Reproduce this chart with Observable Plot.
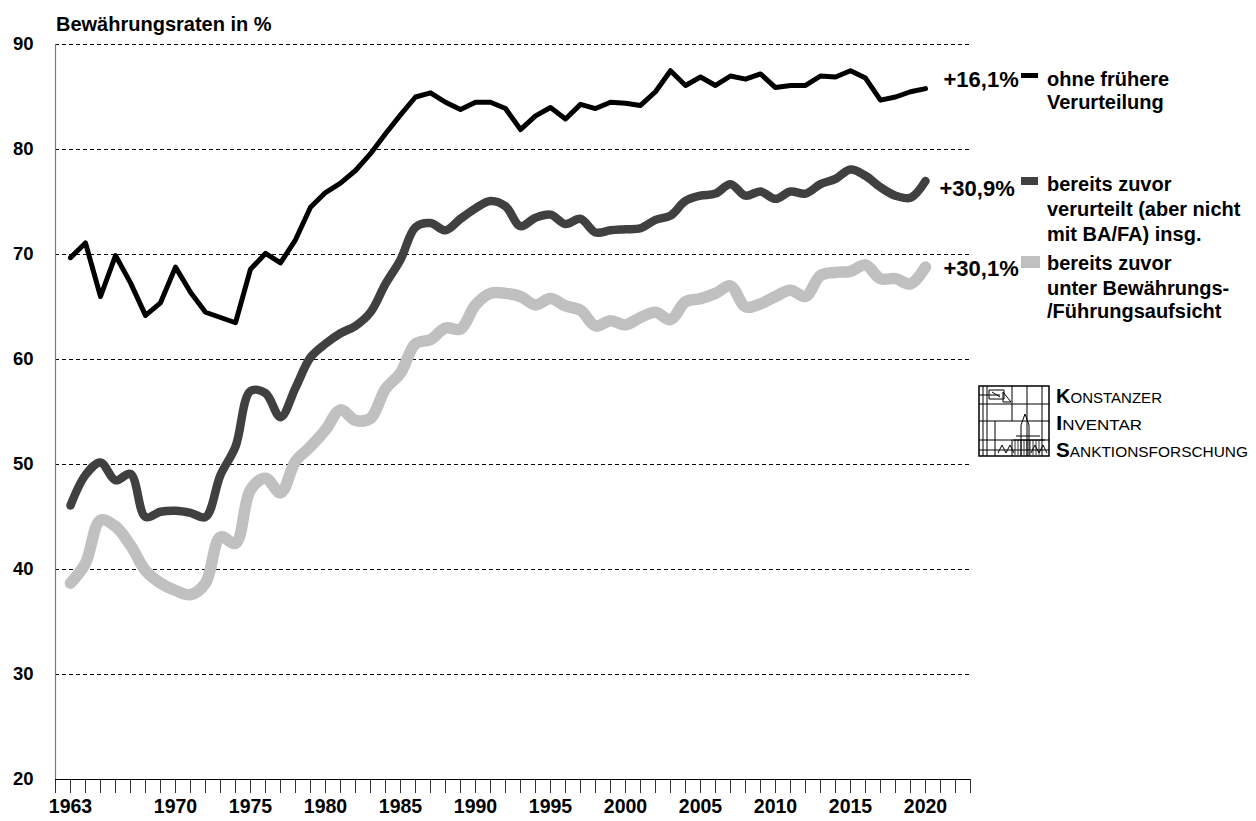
<!DOCTYPE html>
<html>
<head>
<meta charset="utf-8">
<script src="https://cdn.jsdelivr.net/npm/d3@7"></script>
<script src="https://cdn.jsdelivr.net/npm/@observablehq/plot@0.6"></script>
<style>
  html, body { margin: 0; padding: 0; background: #fff; }
  #wrap { position: relative; width: 1256px; height: 821px; font-family: "Liberation Sans", Arial, sans-serif; }
  #overlay { position: absolute; left: 0; top: 0; pointer-events: none; }
  #overlay text { font-family: "Liberation Sans", Arial, sans-serif; font-weight: bold; }
</style>
</head>
<body>
<div id="wrap"></div>
<script>
// ---------- data ----------
const years = [1963,1964,1965,1966,1967,1968,1969,1970,1971,1972,1973,1974,1975,1976,1977,1978,1979,1980,
  1981,1982,1983,1984,1985,1986,1987,1988,1989,1990,1991,1992,1993,1994,1995,1996,1997,1998,1999,2000,
  2001,2002,2003,2004,2005,2006,2007,2008,2009,2010,2011,2012,2013,2014,2015,2016,2017,2018,2019,2020];

const ohneVerurteilung = [69.7,71.1,66.0,69.9,67.3,64.2,65.4,68.8,66.4,64.5,64.0,63.5,68.6,70.1,69.2,71.4,74.5,75.9,
  76.8,78.0,79.6,81.5,83.3,85.0,85.4,84.5,83.8,84.5,84.5,83.9,81.9,83.2,84.0,82.9,84.3,83.9,84.5,84.4,
  84.2,85.5,87.5,86.1,86.9,86.1,87.0,86.7,87.2,85.9,86.1,86.1,87.0,86.9,87.5,86.8,84.7,85.0,85.5,85.8];

const zuvorVerurteilt = [46.1,49.0,50.2,48.5,49.1,45.0,45.5,45.6,45.4,45.0,49.0,51.7,57.0,56.8,54.5,57.3,60.2,61.5,
  62.5,63.2,64.5,67.2,69.5,72.6,73.0,72.3,73.4,74.4,75.1,74.6,72.7,73.5,73.8,72.9,73.4,72.1,72.3,72.4,
  72.5,73.3,73.7,75.1,75.6,75.8,76.7,75.6,76.0,75.3,76.0,75.8,76.7,77.2,78.1,77.5,76.4,75.6,75.4,77.0];

const zuvorBewaehrung = [38.7,40.6,44.7,44.1,42.3,39.9,38.7,38.0,37.6,38.7,43.1,42.5,47.6,48.7,47.3,50.3,51.7,53.3,
  55.2,54.2,54.4,57.2,58.7,61.5,61.9,63.0,62.9,65.2,66.3,66.3,66.0,65.2,65.8,65.1,64.7,63.2,63.7,63.3,
  64.0,64.5,63.8,65.5,65.8,66.3,67.0,65.0,65.3,66.0,66.6,66.0,68.0,68.3,68.4,69.0,67.7,67.7,67.2,68.8];

const seriesKeys = ["ohne", "verurteilt", "bewaehrung"];
const seriesLabels = [
  ["ohne frühere", "Verurteilung"],
  ["bereits zuvor", "verurteilt (aber nicht", "mit BA/FA) insg."],
  ["bereits zuvor", "unter Bewährungs-", "/Führungsaufsicht"]
];
const labelledYears = [1963,1970,1975,1980,1985,1990,1995,2000,2005,2010,2015,2020];
const yTicks = [20,30,40,50,60,70,80,90];
const xDomain = [1962, 2023];
const yDomain = [20, 90];
const titleText = "Bewährungsraten in %";

// ---------- styles (kept separate from data) ----------
const styles = {
  ohne:       {stroke: "#000000", width: 5,    curve: "linear",      dx: 18, dy: -9,  swY: 73,  swH: 5,  swW: 17},
  verurteilt: {stroke: "#404040", width: 8.5,  curve: "catmull-rom", dx: 14, dy: 7.5, swY: 177, swH: 8,  swW: 17},
  bewaehrung: {stroke: "#c0c0c0", width: 11.5, curve: "catmull-rom", dx: 18, dy: 1.5, swY: 256, swH: 12, swW: 19}
};

const valuesByKey = {ohne: ohneVerurteilung, verurteilt: zuvorVerurteilt, bewaehrung: zuvorBewaehrung};
const series = seriesKeys.map(k => ({
  key: k,
  rows: years.map((y, i) => ({year: y, value: valuesByKey[k][i], key: k}))
}));

function fmtChange(rows) {
  const d = rows[rows.length - 1].value - rows[0].value;
  return "+" + d.toFixed(1).replace(".", ",") + "%";
}

const allYearTicks = d3.range(xDomain[0], xDomain[1] + 1);

const lineMarks = [...series].reverse().map(s =>
  Plot.line(s.rows, {x: "year", y: "value", stroke: styles[s.key].stroke, strokeWidth: styles[s.key].width,
    curve: styles[s.key].curve, strokeLinecap: "round", strokeLinejoin: "round"})
);

const endLabels = series.map(s => {
  const last = s.rows[s.rows.length - 1];
  return Plot.text([last], {x: "year", y: "value", text: () => fmtChange(s.rows), textAnchor: "start",
    dx: styles[s.key].dx, dy: styles[s.key].dy, fontSize: 22, fontWeight: "bold", fill: "black"});
});

const chart = Plot.plot({
  width: 1256,
  height: 821,
  marginTop: 44,
  marginRight: 286,
  marginBottom: 42,
  marginLeft: 55,
  style: {fontFamily: "Liberation Sans, Arial, sans-serif", background: "white", color: "black", overflow: "visible"},
  x: {domain: xDomain},
  y: {domain: yDomain, axis: null},
  marks: [
    Plot.ruleY(yTicks.filter(v => v > yDomain[0]), {stroke: "black", strokeWidth: 1, strokeDasharray: "4,3"}),
    Plot.ruleX([xDomain[0]], {y1: yDomain[0], y2: yDomain[1], stroke: "#7a7a7a", strokeWidth: 1.2}),
    // tick marks only (every year)
    Plot.axisX({ticks: allYearTicks, tickSize: 14, stroke: "#333", tickFormat: () => "", label: null}),
    // tick labels as text marks so the font size is controlled
    Plot.text(labelledYears, {x: d => d, frameAnchor: "bottom", dy: 33, text: d => String(d),
      fontSize: 19.5, fontWeight: "bold", fill: "black"}),
    Plot.text(yTicks, {y: d => d, frameAnchor: "left", dx: -22, textAnchor: "end", text: d => String(d),
      fontSize: 18.5, fontWeight: "bold", fill: "black"}),
    Plot.ruleY([yDomain[0]], {stroke: "black", strokeWidth: 1.2}),
    ...lineMarks,
    ...endLabels
  ]
});

const wrap = document.getElementById("wrap");
wrap.appendChild(chart);

// ---------- overlay: title, legend, logo ----------
const ns = "http://www.w3.org/2000/svg";
const ov = document.createElementNS(ns, "svg");
ov.setAttribute("id", "overlay");
ov.setAttribute("width", 1256);
ov.setAttribute("height", 821);
wrap.appendChild(ov);

function el(tag, attrs, text) {
  const e = document.createElementNS(ns, tag);
  for (const k in attrs) e.setAttribute(k, attrs[k]);
  if (text != null) e.textContent = text;
  ov.appendChild(e);
  return e;
}

el("text", {x: 56, y: 31, "font-size": 20}, titleText);

const legendBaselines = [[86, 109], [191, 216, 241], [270, 295, 318]];
series.forEach((s, i) => {
  const st = styles[s.key];
  el("rect", {x: 1021, y: st.swY, width: st.swW, height: st.swH, fill: st.stroke});
  seriesLabels[i].forEach((t, j) => {
    el("text", {x: 1047, y: legendBaselines[i][j], "font-size": 20}, t);
  });
});

// Logo (approximate drawing)
const lg = {x: 979, y: 386, s: 70};
el("rect", {x: lg.x, y: lg.y, width: lg.s, height: lg.s, fill: "none", stroke: "black", "stroke-width": 1.5});
const lines = [
  [983,386,983,456],[987,386,987,456],[979,404,1049,404],[979,421,1049,421],[979,440,1049,440],
  [1012,386,1012,421],[1027,386,1027,456],[1042,386,1042,456],[979,395,1000,395],[995,421,995,456],
  [1012,440,1012,456],[979,450,1049,450]
];
lines.forEach(([x1,y1,x2,y2]) => el("line", {x1, y1, x2, y2, stroke: "black", "stroke-width": 1}));
el("path", {d: "M989 390 L1004 390 L1004 399 L989 399 Z M992 392 L1000 397", fill: "none", stroke: "black", "stroke-width": 1});
el("path", {d: "M1003 392 L1011 402 L1003 402 Z", fill: "none", stroke: "black", "stroke-width": 1});
el("path", {d: "M1021 456 L1021 425 L1025 414 L1029 425 L1029 456 M1013 440 L1045 440 M1016 436 L1040 436", fill: "none", stroke: "black", "stroke-width": 1});
el("path", {d: "M998 453 L1002 445 L1006 453 M1006 453 L1010 445 L1014 453 M1031 453 L1035 445 L1039 453 M1039 453 L1043 445 L1047 453", fill: "none", stroke: "black", "stroke-width": 1});
for (let xx = 1015; xx <= 1040; xx += 3) el("line", {x1: xx, y1: 440, x2: xx, y2: 455, stroke: "black", "stroke-width": 0.8});

const logoWords = [["K", "ONSTANZER", 403, 106], ["I", "NVENTAR", 430, 86], ["S", "ANKTIONSFORSCHUNG", 457, 192]];
logoWords.forEach(([first, rest, by, len]) => {
  const t = el("text", {x: 1056, y: by, "font-size": 20, textLength: len, lengthAdjust: "spacingAndGlyphs",
    style: "font-weight:normal"});
  const a = document.createElementNS(ns, "tspan"); a.textContent = first; a.setAttribute("font-weight", "bold");
  const b = document.createElementNS(ns, "tspan"); b.textContent = rest; b.setAttribute("font-size", 15);
  t.appendChild(a); t.appendChild(b);
});
</script>
</body>
</html>
